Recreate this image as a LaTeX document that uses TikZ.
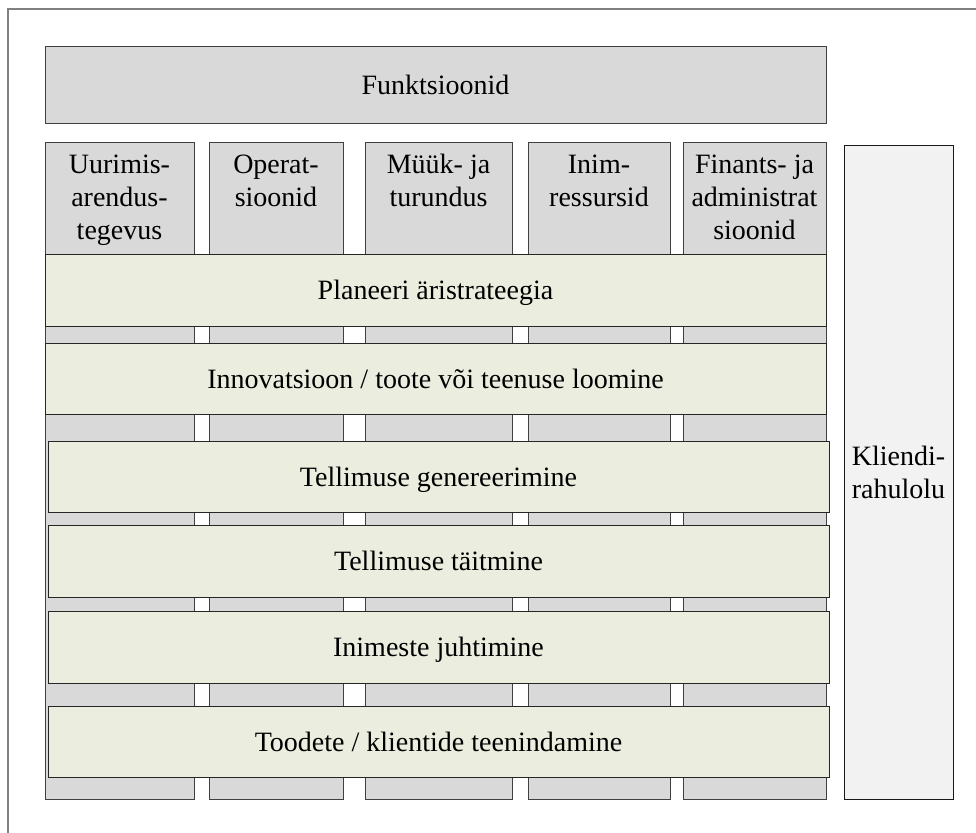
\documentclass[tikz,border=0pt]{standalone}
\usepackage{fontspec}
\setmainfont{Liberation Serif}
\definecolor{colgray}{RGB}{217,217,217}
\definecolor{bandgreen}{RGB}{235,238,223}
\definecolor{kgray}{RGB}{242,242,242}
\definecolor{edgec}{RGB}{64,64,64}
\definecolor{framec}{RGB}{128,128,128}
\begin{document}
\begin{tikzpicture}[x=1pt,y=-1pt,
  box/.style={draw=edgec, line width=1pt, inner sep=0pt, outer sep=0pt, anchor=north west,
    font=\fontsize{28}{33}\selectfont, align=center},
  colbox/.style={box, fill=colgray},
  onelinetext/.style={text height=25pt, text depth=6pt},
  bandbox/.style={box, fill=bandgreen, draw=black!85, onelinetext},
  kbox/.style={box, fill=kgray, draw=black!90},
  coltext/.style={inner sep=0pt, outer sep=0pt, anchor=north, align=center,
    font=\fontsize{28}{33}\selectfont}
]
\useasboundingbox (0,0) rectangle (976,832);
\draw[framec, line width=1.5pt] (8,850) -- (8,9) -- (1000,9);

% title
\node[colbox, onelinetext, minimum width=781pt, minimum height=76pt] (fun) at (45,47) {Funktsioonid};

% columns
\node[colbox, minimum width=149pt, minimum height=657pt] (c1) at (45,142) {};
\node[colbox, minimum width=134pt, minimum height=657pt] (c2) at (209,142) {};
\node[colbox, minimum width=147pt, minimum height=657pt] (c3) at (365,142) {};
\node[colbox, minimum width=142pt, minimum height=657pt] (c4) at (528,142) {};
\node[colbox, minimum width=143pt, minimum height=657pt] (c5) at (683,142) {};

\node[coltext] (t1) at ([yshift=-8pt]c1.north) {\strut Uurimis-\\arendus-\\tegevus};
\node[coltext] (t2) at ([yshift=-8pt]c2.north) {\strut Operat-\\sioonid};
\node[coltext] (t3) at ([yshift=-8pt]c3.north) {\strut Müük- ja\\turundus};
\node[coltext] (t4) at ([yshift=-8pt]c4.north) {\strut Inim-\\ressursid};
\node[coltext] (t5) at ([yshift=-8pt]c5.north) {\strut Finants- ja\\administrat\\sioonid};

% bands
\node[bandbox, minimum width=781pt, minimum height=72pt] (b1) at (45,254) {Planeeri äristrateegia};
\node[bandbox, minimum width=781pt, minimum height=71pt] (b2) at (45,343) {Innovatsioon / toote või teenuse loomine};
\node[bandbox, minimum width=781pt, minimum height=71pt] (b3) at (48,441) {Tellimuse genereerimine};
\node[bandbox, minimum width=781pt, minimum height=72pt] (b4) at (48,525) {Tellimuse täitmine};
\node[bandbox, minimum width=781pt, minimum height=72pt] (b5) at (48,611) {Inimeste juhtimine};
\node[bandbox, minimum width=781pt, minimum height=71pt] (b6) at (48,706) {Toodete / klientide teenindamine};

% customer satisfaction
\node[kbox, minimum width=109pt, minimum height=654pt] (k) at (844,145) {Kliendi-\\rahulolu};
\end{tikzpicture}
\end{document}
